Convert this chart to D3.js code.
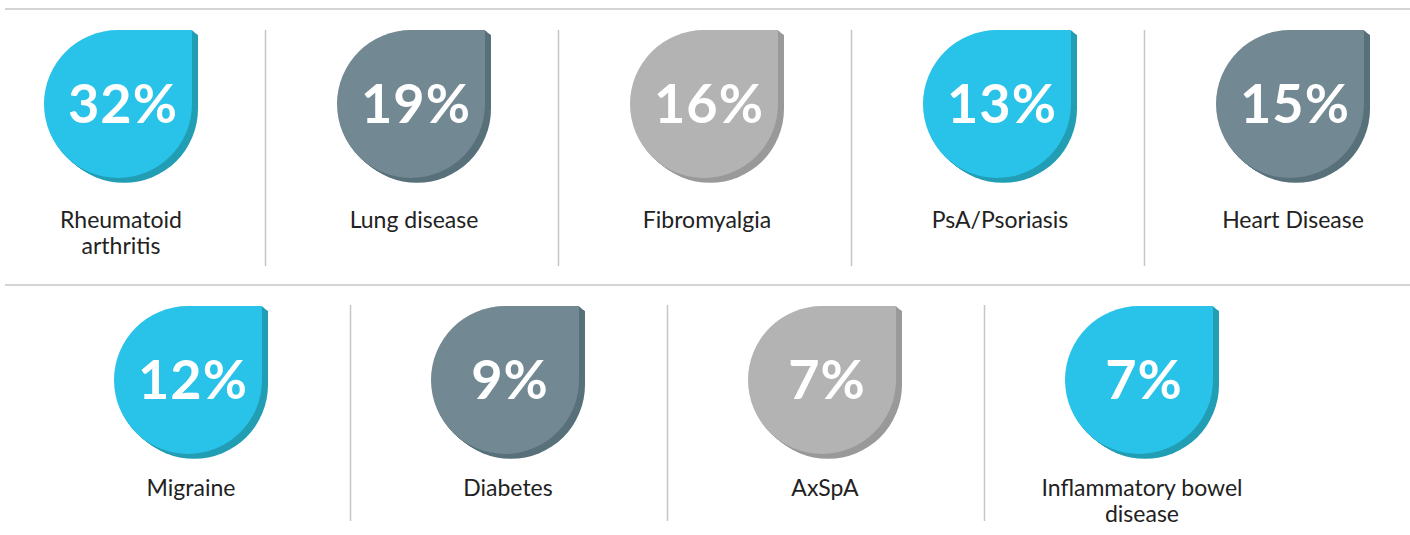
<!DOCTYPE html>
<html>
<head>
<meta charset="utf-8">
<script src="https://cdn.jsdelivr.net/npm/d3@7"></script>
<style>
  html, body { margin: 0; padding: 0; background: #fff; }
</style>
</head>
<body>
<div id="chart"></div>
<script>
// values, two rows of drops
var topLabels = [["Rheumatoid", "arthritis"], ["Lung disease"], ["Fibromyalgia"], ["PsA/Psoriasis"], ["Heart Disease"]];
var topValues = [32, 19, 16, 13, 15];
var topTones = ["blue", "slate", "grey", "blue", "slate"];

var bottomLabels = [["Migraine"], ["Diabetes"], ["AxSpA"], ["Inflammatory bowel", "disease"]];
var bottomValues = [12, 9, 7, 7];
var bottomTones = ["blue", "slate", "grey", "blue"];

var width = 1410;
var height = 535;
var r = 74;

var fills = {
    blue: { face: "#29c2e8", side: "#219db4" },
    slate: { face: "#728892", side: "#57707a" },
    grey: { face: "#b3b3b3", side: "#999999" }
};

var svg = d3.select("#chart").
    append("svg").
    attr("width", width).
    attr("height", height);

// horizontal rules
svg.selectAll("line.rule").
    data([9, 285]).
    enter().
    append("line").
    attr("class", "rule").
    attr("x1", 5).
    attr("x2", width).
    attr("y1", function (d) { return d; }).
    attr("y2", function (d) { return d; }).
    attr("stroke", "#c6c6c6").
    attr("stroke-width", 1.5);

function dropPath(cx, cy) {
    return "M" + cx + "," + (cy - r) +
        "L" + (cx + r) + "," + (cy - r) +
        "L" + (cx + r) + "," + cy +
        "A" + r + "," + r + " 0 1 1 " + cx + "," + (cy - r) + "Z";
}

function drawRow(labels, values, tones, x, cy, baseline, divTop, divBottom, divShift) {
    var names = labels.map(function (l) { return l.join(" "); });
    x.domain(names);

    // dividers between the drops
    var mids = d3.pairs(names).map(function (p) {
        return (x(p[0]) + x(p[1])) / 2 + divShift;
    });
    svg.append("g").
        selectAll("line").
        data(mids).
        enter().
        append("line").
        attr("x1", function (d) { return d; }).
        attr("x2", function (d) { return d; }).
        attr("y1", divTop).
        attr("y2", divBottom).
        attr("stroke", "#c6c6c6").
        attr("stroke-width", 1.5);

    var g = svg.append("g").
        selectAll("g").
        data(names).
        enter().
        append("g");

    // extruded side
    var steps = d3.range(1, 7);
    g.each(function (d, i) {
        var node = d3.select(this);
        steps.forEach(function (s) {
            node.append("path").
                attr("d", dropPath(x(d) + s, cy + s * 0.8)).
                attr("fill", fills[tones[i]].side);
        });
    });

    g.append("path").
        attr("d", function (d) { return dropPath(x(d), cy); }).
        attr("fill", function (d, i) { return fills[tones[i]].face; });

    g.append("text").
        attr("x", function (d) { return x(d) + 5; }).
        attr("y", cy + 19).
        attr("text-anchor", "middle").
        attr("fill", "#fff").
        attr("font-family", "Lato, sans-serif").
        attr("font-weight", "bold").
        attr("font-size", 54).
        attr("letter-spacing", 1).
        text(function (d, i) { return values[i] + "%"; });

    g.append("text").
        attr("text-anchor", "middle").
        attr("fill", "#222").
        attr("font-family", "Lato, sans-serif").
        attr("font-size", 23).
        selectAll("tspan").
        data(function (d, i) {
            return labels[i].map(function (t) { return { t: t, cx: x(d) + 3 }; });
        }).
        enter().
        append("tspan").
        attr("x", function (d) { return d.cx; }).
        attr("y", function (d, j) { return baseline + j * 26; }).
        text(function (d) { return d.t; });
}

drawRow(topLabels, topValues, topTones,
    d3.scalePoint().range([118, 1290]), 104, 228, 30, 266, 1);

drawRow(bottomLabels, bottomValues, bottomTones,
    d3.scalePoint().range([188, 1139]), 380, 496, 305, 521, 4);
</script>
</body>
</html>
